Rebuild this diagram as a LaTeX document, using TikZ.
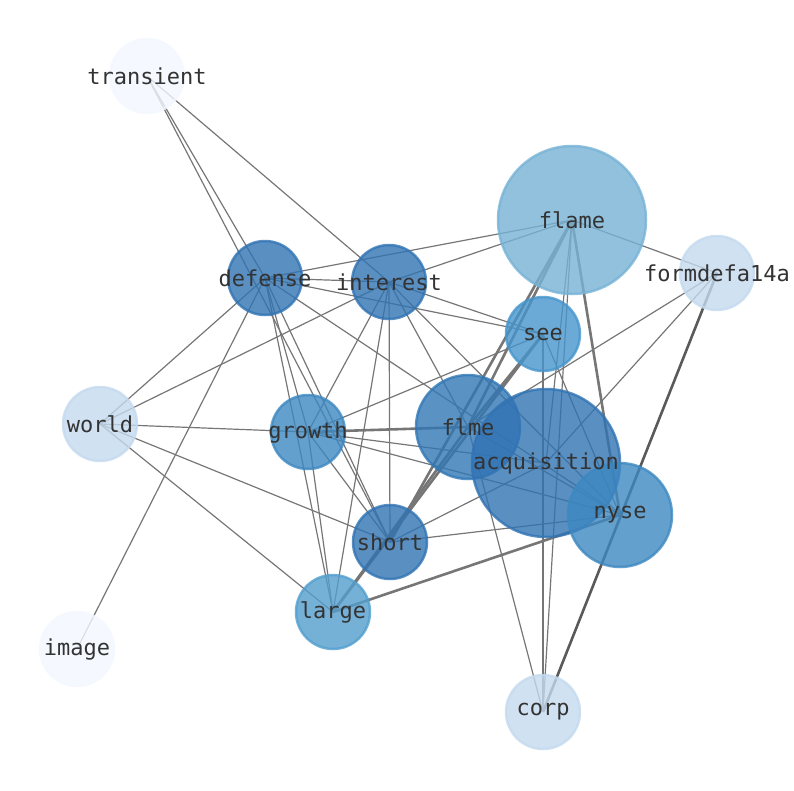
\documentclass[tikz,border=0pt]{standalone}
\usepackage{fontspec}
\setmonofont{DejaVu Sans Mono}
\usetikzlibrary{backgrounds}

\definecolor{cDeep}{RGB}{49,115,179}
\definecolor{cFlme}{RGB}{49,119,181}
\definecolor{cMid}{RGB}{61,136,193}
\definecolor{cSee}{RGB}{70,149,204}
\definecolor{cLarge}{RGB}{83,158,205}
\definecolor{cFlame}{RGB}{118,178,213}
\definecolor{cPale}{RGB}{196,218,238}
\definecolor{cWhite}{RGB}{243,248,255}
\definecolor{linkgray}{RGB}{118,118,118}
\definecolor{darkgray}{RGB}{90,90,90}

\tikzset{
  bub/.style={circle, inner sep=0pt, minimum size=#1, line width=2.5pt,
    fill opacity=0.8, draw opacity=0.8},
  lbl/.style={font=\ttfamily\fontsize{22}{26}\selectfont, text=black!80, inner sep=0pt},
  link/.style={draw=linkgray, line width=1.2pt},
  heavy/.style={draw=linkgray, line width=2.6pt},
}

\begin{document}
\begin{tikzpicture}[x=1pt, y=-1pt]
    \useasboundingbox (0,0) rectangle (794,790);

    % Small nodes
    \node[bub=74, fill=cWhite, draw=cWhite] (transient) at (147,76) {};
    \node[bub=74, fill=cDeep, draw=cDeep] (defense) at (265,278) {};
    \node[bub=74, fill=cDeep, draw=cDeep] (interest) at (389,282) {};
    \node[bub=74, fill=cPale, draw=cPale] (formdef) at (717,273) {};
    \node[bub=74, fill=cSee, draw=cSee] (see) at (543,334) {};
    \node[bub=74, fill=cPale, draw=cPale] (world) at (100,424) {};
    \node[bub=74, fill=cMid, draw=cMid] (growth) at (308,432) {};
    \node[bub=74, fill=cDeep, draw=cDeep] (short) at (390,542) {};
    \node[bub=74, fill=cLarge, draw=cLarge] (large) at (333,612) {};
    \node[bub=74, fill=cWhite, draw=cWhite] (image) at (77,649) {};
    \node[bub=74, fill=cPale, draw=cPale] (corp) at (543,712) {};

    % Large nodes
    \node[bub=148, fill=cFlame, draw=cFlame] (flame) at (572,220) {};
    \node[bub=104, fill=cFlme, draw=cFlme] (flme) at (468,427) {};
    \node[bub=148, fill=cDeep, draw=cDeep] (acq) at (546,463) {};
    \node[bub=104, fill=cMid, draw=cMid] (nyse) at (620,515) {};

    % Labels on top
    \node[lbl] (transientL) at (transient) {transient};
    \node[lbl] (defenseL) at (defense) {defense};
    \node[lbl] (interestL) at (interest) {interest};
    \node[lbl] (formdefL) at (formdef) {formdefa14a};
    \node[lbl] (seeL) at (see) {see};
    \node[lbl] (worldL) at (world) {world};
    \node[lbl] (growthL) at (growth) {growth};
    \node[lbl] (shortL) at (short) {short};
    \node[lbl] (largeL) at (large) {large};
    \node[lbl] (imageL) at (image) {image};
    \node[lbl] (corpL) at (corp) {corp};
    \node[lbl] (flameL) at (flame) {flame};
    \node[lbl] (flmeL) at (flme) {flme};
    \node[lbl] (acqL) at (acq) {acquisition};
    \node[lbl] (nyseL) at (nyse) {nyse};

    \begin{scope}[on background layer]
    % Links from transient and image
    \draw[link] (transient.center) -- (defense.center);
    \draw[link] (transient.center) -- (interest.center);
    \draw[link] (transient.center) -- (short.center);
    \draw[link] (image.center) -- (defense.center);

    % Links from defense
    \draw[link] (defense.center) -- (interest.center);
    \draw[link] (defense.center) -- (flame.center);
    \draw[link] (defense.center) -- (see.center);
    \draw[link] (defense.center) -- (world.center);
    \draw[link] (defense.center) -- (large.center);
    \draw[link] (defense.center) -- (growth.center);
    \draw[link] (defense.center) -- (short.center);
    \draw[link] (defense.center) -- (nyse.center);

    % Links from interest
    \draw[link] (interest.center) -- (flame.center);
    \draw[link] (interest.center) -- (see.center);
    \draw[link] (interest.center) -- (world.center);
    \draw[link] (interest.center) -- (growth.center);
    \draw[link] (interest.center) -- (large.center);
    \draw[link] (interest.center) -- (short.center);
    \draw[link] (interest.center) -- (flme.center);
    \draw[link] (interest.center) -- (nyse.center);

    % Links from flame, formdefa14a and see
    \draw[link] (flame.center) -- (formdef.center);
    \draw[link] (flame.center) -- (acq.center);
    \draw[link] (flame.center) -- (corp.center);
    \draw[link] (formdef.center) -- (flme.center);
    \draw[link] (formdef.center) -- (acq.center);
    \draw[link] (see.center) -- (corp.center);
    \draw[link] (see.center) -- (nyse.center);
    \draw[link] (see.center) -- (growth.center);

    % Links from world, growth and short
    \draw[link] (world.center) -- (growth.center);
    \draw[link] (world.center) -- (short.center);
    \draw[link] (world.center) -- (large.center);
    \draw[link] (growth.center) -- (acq.center);
    \draw[link] (growth.center) -- (nyse.center);
    \draw[link] (growth.center) -- (short.center);
    \draw[link] (growth.center) -- (large.center);
    \draw[link] (short.center) -- (acq.center);
    \draw[link] (short.center) -- (nyse.center);
    \draw[link] (flme.center) -- (corp.center);
    \draw[link] (flme.center) -- (nyse.center);

    % Heavy links
    \draw[heavy] (growth.center) -- (flme.center);
    \draw[heavy] (flame.center) -- (flme.center);
    \draw[heavy] (flame.center) -- (nyse.center);
    \draw[heavy] (flame.center) -- (short.center);
    \draw[heavy] (see.center) -- (flme.center);
    \draw[heavy] (see.center) -- (large.center);
    \draw[heavy] (large.center) -- (flme.center);
    \draw[heavy] (large.center) -- (nyse.center);
    \draw[heavy, draw=darkgray] (formdef.center) -- (corp.center);
    \end{scope}
\end{tikzpicture}
\end{document}
